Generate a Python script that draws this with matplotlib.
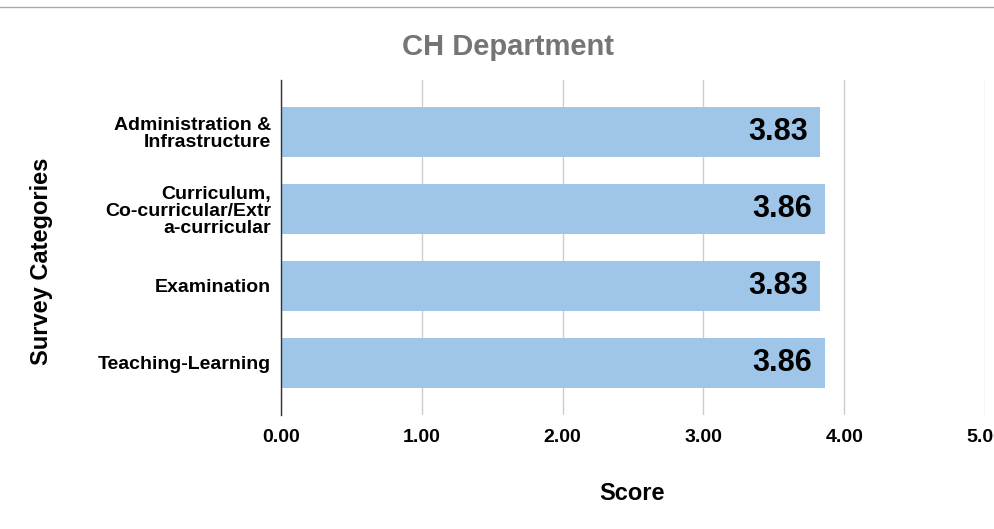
import matplotlib.pyplot as plt
from matplotlib.lines import Line2D

plt.rcParams['font.family'] = ['Liberation Sans', 'DejaVu Sans']

# data
categories = ["Administration &\nInfrastructure",
              "Curriculum,\nCo-curricular/Extr\na-curricular",
              "Examination",
              "Teaching-Learning"]
scores = [3.83, 3.86, 3.83, 3.86]
x_ticks = [0, 1, 2, 3, 4, 5]

fig = plt.figure(figsize=(9.95, 5.29), dpi=100)
ax = fig.add_axes([0.2824, 0.2155, 0.7076, 0.6333])

pos = list(range(len(categories)))
bars = ax.barh(pos, scores, height=0.65, color='#9fc5e8', zorder=2)
for b, v in zip(bars, scores):
    ax.text(v - 0.09, b.get_y() + b.get_height() / 2, f"{v:.2f}",
            ha='right', va='center', fontsize=22, fontweight='bold', color='black', zorder=3)

ax.set_ylim(3.68, -0.68)
ax.set_xlim(0, 5)
ax.set_yticks(pos)
ax.set_yticklabels(categories, fontsize=14, fontweight='bold', linespacing=1.0)
ax.set_xticks(x_ticks)
ax.set_xticklabels([f"{t:.2f}" for t in x_ticks], fontsize=14, fontweight='bold')
ax.tick_params(axis='both', length=0)
ax.tick_params(axis='y', pad=7)
ax.tick_params(axis='x', pad=10)

ax.grid(axis='x', color='#cccccc', linewidth=1, zorder=0)
for s in ['top', 'right', 'bottom']:
    ax.spines[s].set_visible(False)
ax.spines['left'].set_color('#333333')
ax.spines['left'].set_linewidth(1)
ax.spines['left'].set_zorder(4)

# axis titles and chart title
fig.text(632 / 995, 1 - 493 / 529, "Score", ha='center', va='center',
         fontsize=17, fontweight='bold')
fig.text(42 / 995, 1 - 261 / 529, "Survey Categories", ha='center', va='center',
         rotation=90, fontsize=17, fontweight='bold')
fig.text(508 / 995, 1 - 47 / 529, "CH Department", ha='center', va='center',
         fontsize=21, fontweight='bold', color='#757575')

fig.add_artist(Line2D([0, 1], [1 - 7 / 529, 1 - 7 / 529], transform=fig.transFigure,
                      color='#aaaaaa', linewidth=1))

fig.savefig("out.png", dpi=100)
